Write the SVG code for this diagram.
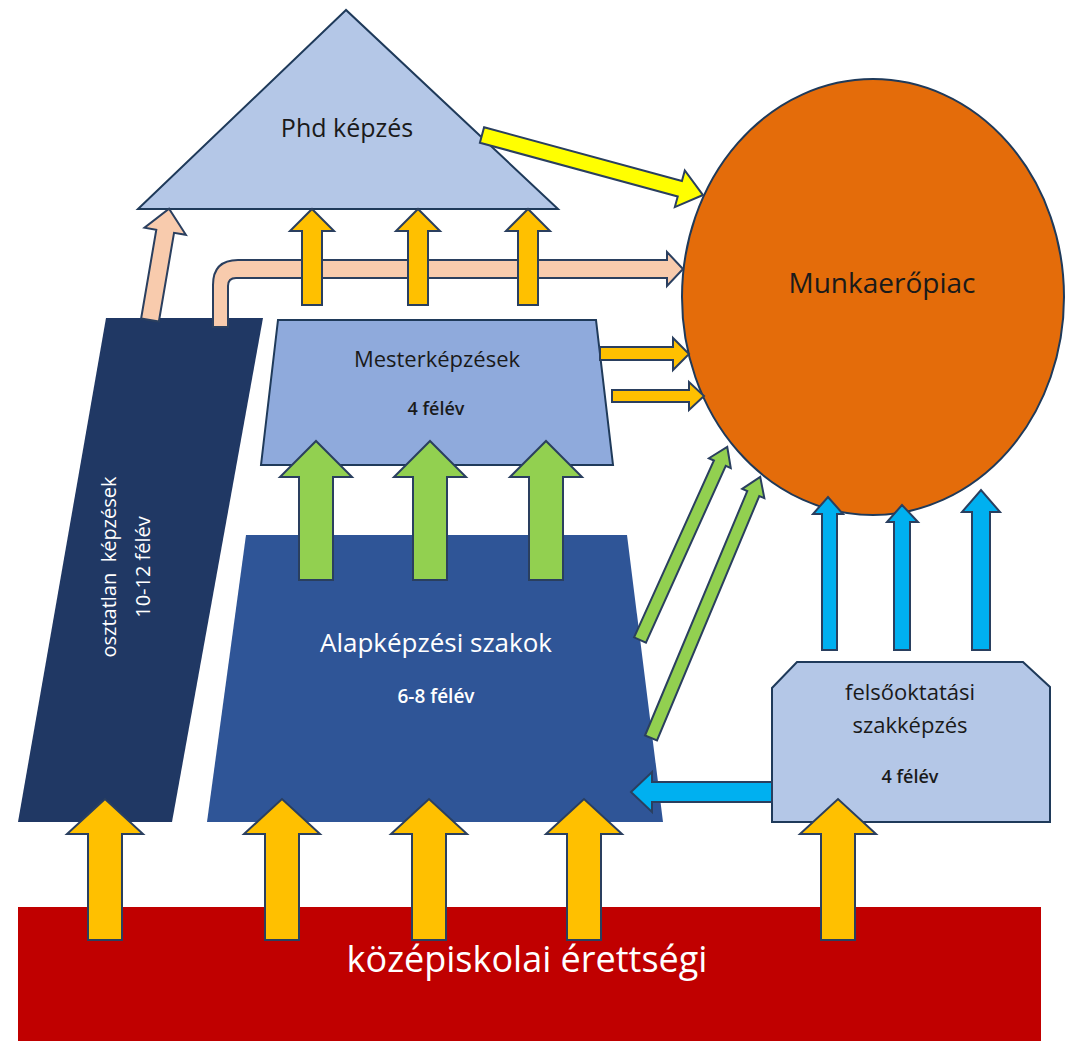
<svg xmlns="http://www.w3.org/2000/svg" width="1066" height="1041" viewBox="0 0 1066 1041">
<style>
.st{stroke:#1f3a5a;stroke-width:2;stroke-linejoin:miter}
.ar{stroke:#2a3f5f;stroke-width:2;stroke-linejoin:miter}
.gold{fill:#ffc000}
.green{fill:#92d050}
.blue{fill:#00b0f0}
.peach{fill:#f8cbad}
.yel{fill:#ffff00}
text{font-family:"Open Sans","Liberation Sans",sans-serif;text-anchor:middle}
.dk{fill:#1a1a1a}
.wh{fill:#ffffff}
.sb{font-weight:600}
</style>
<rect width="1066" height="1041" fill="#ffffff"/>

<g id="phd">
<polygon class="st" points="346,10 138,209 558,209" fill="#b4c7e7"/>
<text class="dk" x="347" y="137" font-size="25">Phd képzés</text>
</g>

<g id="munkaeropiac">
<ellipse class="st" cx="873" cy="297" rx="191" ry="218" fill="#e46c0a"/>
<text class="dk" x="882" y="293" font-size="28">Munkaerőpiac</text>
</g>

<g id="osztatlan">
<polygon points="106,318 263,318 172,822 18,822" fill="#203864"/>
<text class="wh" font-size="20" transform="translate(116,567) rotate(-90)">osztatlan&#160; képzések</text>
<text class="wh" font-size="20" transform="translate(150,567) rotate(-90)">10-12 félév</text>
</g>

<g id="mester">
<polygon class="st" points="278,320 596,320 613,465 261,465" fill="#8faadc"/>
<text class="dk" x="437" y="367" font-size="22">Mesterképzések</text>
<text class="dk sb" x="436" y="415" font-size="18">4 félév</text>
</g>

<g id="alap">
<polygon points="246,535 627,535 663,822 207,822" fill="#2f5597"/>
<text class="wh" x="436" y="652" font-size="26">Alapképzési szakok</text>
<text class="wh sb" x="436" y="703" font-size="19">6-8 félév</text>
</g>

<g id="felso">
<polygon class="st" points="797,662 1023,662 1050,687 1050,822 772,822 772,688" fill="#b4c7e7"/>
<text class="dk" x="910" y="700" font-size="22">felsőoktatási</text>
<text class="dk" x="910" y="733" font-size="22">szakképzés</text>
<text class="dk sb" x="910" y="783" font-size="18">4 félév</text>
</g>

<g id="erettsegi">
<rect x="18" y="907" width="1023" height="134" fill="#c00000"/>
<text class="wh" x="527" y="972" font-size="36">középiskolai érettségi</text>
</g>

<g id="connectors">
<!-- yellow Phd -> market -->
<polygon class="ar yel" transform="translate(482,135) rotate(15.2)" points="0,-8 205,-8 205,-19 229,0 205,19 205,8 0,8"/>
<!-- peach from osztatlan to Phd -->
<polygon class="ar peach" transform="translate(150,320) rotate(-80.3)" points="0,-9 90,-9 90,-21 113,0 90,21 90,9 0,9"/>
<!-- peach bent osztatlan -> market -->
<path class="ar peach" d="M213,327 L213,285 Q213,260 238,260 L667,260 L667,252 L683,269 L667,286 L667,278 L236,278 Q228,278 228,286 L228,327 Z"/>
<!-- gold up to Phd -->
<polygon class="ar gold" points="302,305 302,231 290,231 312,209 334,231 322,231 322,305"/>
<polygon class="ar gold" points="408,305 408,231 396,231 418,209 440,231 428,231 428,305"/>
<polygon class="ar gold" points="518,305 518,231 506,231 528,209 550,231 538,231 538,305"/>
<!-- gold right from mester -->
<polygon class="ar gold" points="600,347 673,347 673,338 689,354 673,370 673,360 600,360"/>
<polygon class="ar gold" points="612,390 689,390 689,382 704,396 689,410 689,402 612,402"/>
<!-- green up alap -> mester -->
<polygon class="ar green" points="299,580 299,477 280,477 316,441 352,477 333,477 333,580"/>
<polygon class="ar green" points="413,580 413,477 394,477 430,441 466,477 447,477 447,580"/>
<polygon class="ar green" points="529,580 529,477 510,477 546,441 582,477 563,477 563,580"/>
<!-- green diagonals -->
<polygon class="ar green" transform="translate(640,640) rotate(-65.7)" points="0,-6.5 194,-6.5 194,-12 212,0 194,12 194,6.5 0,6.5"/>
<polygon class="ar green" transform="translate(651,738) rotate(-67.3)" points="0,-6.5 265,-6.5 265,-12 283,0 265,12 265,6.5 0,6.5"/>
<!-- blue up felso -> market -->
<polygon class="ar blue" points="822,650 822,514 813,514 828,497 843,514 837,514 837,650"/>
<polygon class="ar blue" points="894,650 894,522 887,522 902,505 918,522 910,522 910,650"/>
<polygon class="ar blue" points="972,650 972,512 962,512 981,490 1000,512 990,512 990,650"/>
<!-- blue left felso -> alap -->
<polygon class="ar blue" points="772,782 652,782 652,772 631,792 652,812 652,802 772,802"/>
<!-- gold up from erettsegi -->
<polygon class="ar gold" points="88,940 88,834 67,834 105,799 143,834 122,834 122,940"/>
<polygon class="ar gold" points="265,940 265,834 244,834 282,799 320,834 299,834 299,940"/>
<polygon class="ar gold" points="412,940 412,834 391,834 429,799 467,834 446,834 446,940"/>
<polygon class="ar gold" points="567,940 567,834 546,834 584,799 622,834 601,834 601,940"/>
<polygon class="ar gold" points="821,940 821,834 800,834 838,799 876,834 855,834 855,940"/>
</g>
</svg>
